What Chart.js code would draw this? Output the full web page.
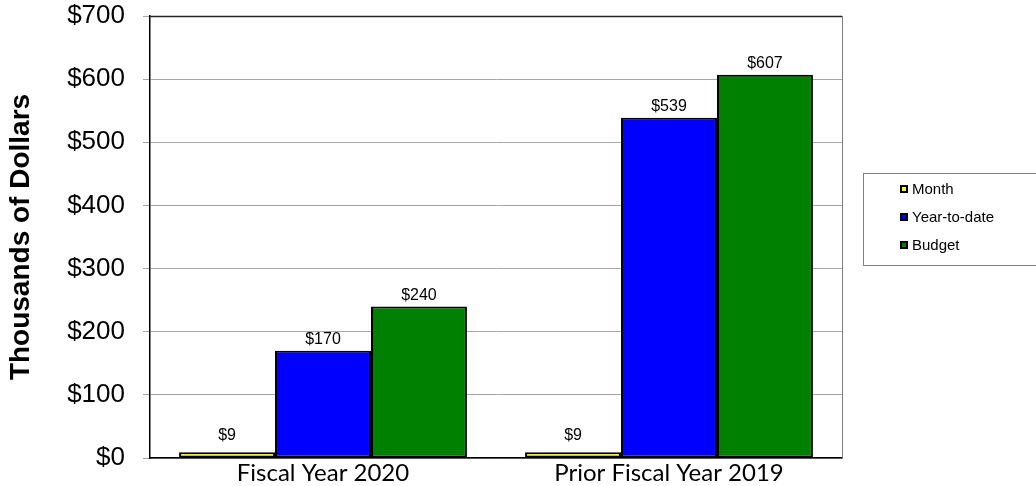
<!DOCTYPE html>
<html>
<head>
<meta charset="utf-8">
<script src="https://cdn.jsdelivr.net/npm/chart.js@4/dist/chart.umd.min.js"></script>
<style>
  html, body { margin: 0; padding: 0; background: #ffffff; }
  #wrap { width: 1036px; height: 486px; position: relative; }
</style>
</head>
<body>
<div id="wrap"><canvas id="chart" width="1036" height="486"></canvas></div>
<script>
// Spending in thousands of dollars
const categories = ['Fiscal Year 2020', 'Prior Fiscal Year 2019'];
const seriesNames = ['Month', 'Year-to-date', 'Budget'];
const monthValues = [9, 9];
const yearToDateValues = [170, 539];
const budgetValues = [240, 607];
const yTicks = [0, 100, 200, 300, 400, 500, 600, 700];

const seriesColors = ['#ffff00', '#0000ff', '#008000'];

// Data labels above each bar
const valueLabels = {
  id: 'valueLabels',
  afterDatasetsDraw(chart) {
    const ctx = chart.ctx;
    ctx.save();
    ctx.font = '16px "Liberation Sans", Arial, sans-serif';
    ctx.fillStyle = '#000000';
    ctx.textAlign = 'center';
    ctx.textBaseline = 'bottom';
    chart.data.datasets.forEach((ds, i) => {
      chart.getDatasetMeta(i).data.forEach((el, j) => {
        const gap = ds.data[j] < 20 ? 9 : 3;
        ctx.fillText('$' + ds.data[j], el.x, el.y - gap);
      });
    });
    ctx.restore();
  }
};

// Plot frame: dark top edge, grey right edge
const plotFrame = {
  id: 'plotFrame',
  afterDraw(chart) {
    const { ctx, chartArea: a } = chart;
    ctx.save();
    ctx.lineWidth = 1.5;
    ctx.strokeStyle = '#222222';
    ctx.beginPath();
    ctx.moveTo(a.left, a.top + 0.5);
    ctx.lineTo(a.right, a.top + 0.5);
    ctx.stroke();
    ctx.lineWidth = 1;
    ctx.strokeStyle = '#808080';
    ctx.beginPath();
    ctx.moveTo(a.right + 0.5, a.top);
    ctx.lineTo(a.right + 0.5, a.bottom);
    ctx.stroke();
    ctx.restore();
  }
};

// Boxed legend to the right of the plot
const boxedLegend = {
  id: 'boxedLegend',
  afterDraw(chart) {
    const ctx = chart.ctx;
    const boxX = 863.5, boxY = 173.5, boxW = 200, boxH = 92;
    ctx.save();
    ctx.lineWidth = 1;
    ctx.strokeStyle = '#808080';
    ctx.strokeRect(boxX, boxY, boxW, boxH);
    ctx.font = '15px "Liberation Sans", Arial, sans-serif';
    ctx.textAlign = 'left';
    ctx.textBaseline = 'middle';
    chart.data.datasets.forEach((ds, i) => {
      const cy = 189 + i * 28;
      ctx.fillStyle = '#000000';
      ctx.fillRect(900, cy - 4, 8, 8);
      ctx.fillStyle = ds.backgroundColor;
      ctx.fillRect(902, cy - 2, 4, 4);
      ctx.fillStyle = '#000000';
      ctx.fillText(ds.label, 912, cy + 1);
    });
    ctx.restore();
  }
};

const seriesData = [monthValues, yearToDateValues, budgetValues];

new Chart(document.getElementById('chart'), {
  type: 'bar',
  data: {
    labels: categories,
    datasets: seriesNames.map((name, i) => ({
      label: name,
      data: seriesData[i],
      backgroundColor: seriesColors[i],
      borderColor: '#000000',
      borderWidth: 2,
      borderSkipped: false,
      barPercentage: 1.0,
      categoryPercentage: 0.832
    }))
  },
  options: {
    responsive: false,
    animation: false,
    layout: { padding: { top: 16, right: 194, bottom: 0, left: 0 } },
    plugins: {
      legend: { display: false },
      tooltip: { enabled: false }
    },
    scales: {
      x: {
        grid: { display: false, drawTicks: false },
        border: { display: true, color: '#000000', width: 1.5 },
        ticks: {
          padding: 1,
          color: '#000000',
          font: { family: 'Lato, "Open Sans", sans-serif', size: 24 }
        },
        afterFit(scale) { scale.height = 28; }
      },
      y: {
        min: 0,
        max: 700,
        afterBuildTicks(scale) { scale.ticks = yTicks.map(v => ({ value: v })); },
        grid: { color: '#a6a6a6', lineWidth: 1, tickLength: 7, drawTicks: true },
        border: { display: true, color: '#000000', width: 1.5 },
        ticks: {
          padding: 18,
          color: '#000000',
          font: { family: '"Liberation Sans", Arial, sans-serif', size: 26 },
          callback: v => '$' + v
        },
        title: {
          display: true,
          text: 'Thousands of Dollars',
          color: '#000000',
          font: { family: '"Liberation Sans", Arial, sans-serif', size: 28, weight: 'bold' },
          padding: { top: 4, bottom: 0 }
        },
        afterFit(scale) {
          scale.width = 150;
          scale.paddingTop = 0;
          scale.paddingBottom = 0;
        }
      }
    }
  },
  plugins: [valueLabels, plotFrame, boxedLegend]
});
</script>
</body>
</html>
